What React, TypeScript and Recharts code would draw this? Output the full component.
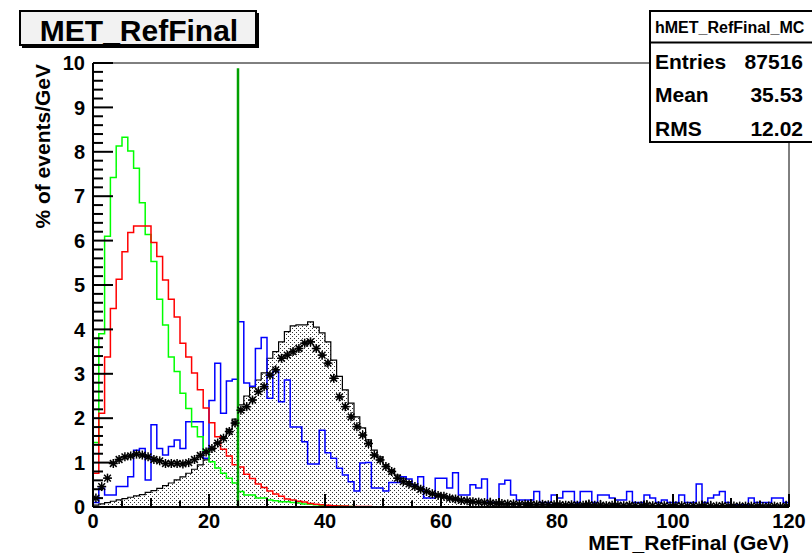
import React from 'react';
import { ComposedChart, Line, Area, Scatter, XAxis, YAxis, ReferenceLine } from 'recharts';

const FONT = '"Liberation Sans", Arial, Helvetica, sans-serif';

// ---- axis definitions ----
const X_MIN = 0;
const X_MAX = 120;
const BIN_WIDTH = 1;
const Y_MIN = 0;
const Y_MAX = 10;
const xMajorTicks = [0, 20, 40, 60, 80, 100, 120];
const xMinorStep = 5;
const yMajorTicks = [0, 1, 2, 3, 4, 5, 6, 7, 8, 9, 10];
const yMinorStep = 0.2;

// ---- cut line ----
const cutX = 25;
const cutTop = 9.88;

// ---- texts ----
const chartTitle = 'MET_RefFinal';
const xTitle = 'MET_RefFinal (GeV)';
const yTitle = '% of events/GeV';
const statsName = 'hMET_RefFinal_MC';
const statsLabels = ['Entries', 'Mean', 'RMS'];
const statsValues = ['87516', '35.53', '12.02'];

// ---- histogram contents (one value per 1 GeV bin, 0..120) ----
const greenHist = [
  1.45, 3.9, 6.1, 7.42, 8.13, 8.33, 8.02, 7.63, 6.85, 6.14,
  5.53, 4.68, 4.1, 3.38, 3.05, 2.56, 2.22, 1.81, 1.58, 1.28,
  1.02, 0.88, 0.76, 0.65, 0.54, 0.35, 0.27, 0.27, 0.2, 0.2,
  0.16, 0.14, 0.12, 0.12, 0.1, 0.09, 0.07, 0.06, 0.05, 0.04,
  0.03, 0.02, 0.02, 0.01, 0.01, 0, 0, 0, 0, 0,
  0, 0, 0, 0, 0, 0, 0, 0, 0, 0,
  0, 0, 0, 0, 0, 0, 0, 0, 0, 0,
  0, 0, 0, 0, 0, 0, 0, 0, 0, 0,
  0, 0, 0, 0, 0, 0, 0, 0, 0, 0,
  0, 0, 0, 0, 0, 0, 0, 0, 0, 0,
  0, 0, 0, 0, 0, 0, 0, 0, 0, 0,
  0, 0, 0, 0, 0, 0, 0, 0, 0, 0,
];

const redHist = [
  0.76, 2.11, 3.38, 4.47, 5.13, 5.75, 6.18, 6.33, 6.33, 6.33,
  5.96, 5.64, 5.11, 4.68, 4.28, 3.69, 3.38, 3.02, 2.64, 2.23,
  1.9, 1.58, 1.3, 1.15, 0.95, 0.9, 0.74, 0.64, 0.52, 0.44,
  0.36, 0.29, 0.24, 0.18, 0.16, 0.13, 0.11, 0.08, 0.06, 0.05,
  0.04, 0.03, 0.02, 0.02, 0.01, 0.01, 0.01, 0.01, 0, 0,
  0, 0, 0, 0, 0, 0, 0, 0, 0, 0,
  0, 0, 0, 0, 0, 0, 0, 0, 0, 0,
  0, 0, 0, 0, 0, 0, 0, 0, 0, 0,
  0, 0, 0, 0, 0, 0, 0, 0, 0, 0,
  0, 0, 0, 0, 0, 0, 0, 0, 0, 0,
  0, 0, 0, 0, 0, 0, 0, 0, 0, 0,
  0, 0, 0, 0, 0, 0, 0, 0, 0, 0,
];

const blueHist = [
  0.1, 0.42, 0.27, 0.27, 0.46, 0.46, 0.68, 1.28, 1.32, 0.61,
  1.85, 1.32, 1.17, 1.36, 1.51, 1.32, 1.92, 1.92, 1.92, 1.1,
  2.4, 3.24, 2.11, 2.84, 2.88, 4.17, 2.79, 2.72, 3.57, 3.82,
  2.45, 3.05, 2.37, 2.86, 1.8, 1.8, 1.47, 0.97, 0.97, 1.73,
  1.22, 1.1, 0.87, 0.72, 0.57, 0.36, 0.99, 1.0, 0.43, 0.43,
  0.36, 0.55, 0.55, 0.68, 0.63, 0.5, 0.68, 0.2, 0.2, 0.65,
  0.65, 0.43, 0.77, 0.27, 0.27, 0.5, 0.43, 0.63, 0.1, 0.1,
  0.52, 0.6, 0.27, 0.16, 0.16, 0.16, 0.35, 0.1, 0.1, 0.27,
  0.2, 0.35, 0.35, 0.1, 0.35, 0.35, 0.1, 0.27, 0.27, 0.2,
  0.16, 0.16, 0.35, 0.1, 0.1, 0.27, 0.2, 0.1, 0.16, 0.1,
  0.1, 0.27, 0.1, 0.1, 0.52, 0.1, 0.2, 0.27, 0.35, 0.1,
  0.05, 0.05, 0.05, 0.2, 0.1, 0.1, 0.1, 0.2, 0.2, 0.1,
];

const mcHist = [
  0.04, 0.07, 0.1, 0.13, 0.16, 0.19, 0.22, 0.25, 0.28, 0.33,
  0.37, 0.42, 0.48, 0.54, 0.61, 0.68, 0.76, 0.85, 0.95, 1.06,
  1.3, 1.45, 1.58, 1.75, 1.98, 2.3, 2.5, 2.7, 2.86, 3.02,
  3.35, 3.5, 3.72, 3.95, 4.08, 4.1, 4.1, 4.17, 4.05, 3.92,
  3.72, 3.31, 2.94, 2.64, 2.34, 2.03, 1.78, 1.51, 1.28, 1.13,
  0.95, 0.83, 0.72, 0.65, 0.57, 0.5, 0.42, 0.35, 0.3, 0.27,
  0.23, 0.2, 0.17, 0.15, 0.13, 0.12, 0.1, 0.09, 0.08, 0.08,
  0.07, 0.07, 0.06, 0.06, 0.06, 0.05, 0.05, 0.05, 0.05, 0.04,
  0.04, 0.04, 0.04, 0.04, 0.04, 0.04, 0.04, 0.04, 0.04, 0.04,
  0.03, 0.03, 0.03, 0.03, 0.03, 0.03, 0.03, 0.03, 0.03, 0.03,
  0.03, 0.03, 0.03, 0.03, 0.03, 0.02, 0.02, 0.02, 0.02, 0.02,
  0.02, 0.02, 0.02, 0.02, 0.02, 0.02, 0.02, 0.02, 0.02, 0.02,
];

const dataHist = [
  0.2, 0.46, 0.65, 0.98, 1.07, 1.13, 1.15, 1.19, 1.17, 1.13,
  1.07, 1.04, 0.98, 0.98, 0.98, 0.97, 1.0, 1.07, 1.16, 1.24,
  1.32, 1.44, 1.55, 1.7, 1.89, 2.18, 2.26, 2.41, 2.6, 2.71,
  2.97, 3.09, 3.35, 3.42, 3.5, 3.57, 3.69, 3.72, 3.57, 3.42,
  3.24, 2.9, 2.48, 2.26, 2.03, 1.81, 1.62, 1.43, 1.17, 1.06,
  0.91, 0.8, 0.65, 0.57, 0.52, 0.46, 0.4, 0.35, 0.3, 0.26,
  0.24, 0.2, 0.18, 0.15, 0.14, 0.12, 0.11, 0.1, 0.09, 0.08,
  0.08, 0.07, 0.07, 0.06, 0.06, 0.06, 0.05, 0.06, 0.05, 0.05,
  0.05, 0.04, 0.05, 0.04, 0.04, 0.05, 0.04, 0.04, 0.03, 0.04,
  0.04, 0.03, 0.04, 0.03, 0.03, 0.04, 0.03, 0.03, 0.03, 0.02,
  0.03, 0.03, 0.02, 0.03, 0.02, 0.03, 0.02, 0.02, 0.03, 0.02,
  0.02, 0.02, 0.02, 0.02, 0.02, 0.01, 0.02, 0.02, 0.01, 0.02,
];

const dataErr = [
  0.03, 0.04, 0.04, 0.05, 0.05, 0.05, 0.05, 0.05, 0.05, 0.05,
  0.05, 0.05, 0.05, 0.05, 0.05, 0.05, 0.05, 0.05, 0.05, 0.05,
  0.05, 0.05, 0.05, 0.05, 0.05, 0.06, 0.06, 0.06, 0.06, 0.06,
  0.06, 0.06, 0.06, 0.06, 0.06, 0.06, 0.06, 0.06, 0.06, 0.06,
  0.06, 0.06, 0.06, 0.06, 0.06, 0.05, 0.05, 0.05, 0.05, 0.05,
  0.05, 0.05, 0.05, 0.05, 0.05, 0.05, 0.05, 0.05, 0.05, 0.05,
  0.05, 0.05, 0.05, 0.05, 0.05, 0.05, 0.05, 0.05, 0.12, 0.05,
  0.05, 0.05, 0.05, 0.05, 0.05, 0.12, 0.05, 0.05, 0.05, 0.05,
  0.05, 0.05, 0.05, 0.05, 0.05, 0.12, 0.05, 0.12, 0.05, 0.05,
  0.05, 0.05, 0.05, 0.05, 0.05, 0.12, 0.05, 0.05, 0.05, 0.05,
  0.05, 0.05, 0.05, 0.05, 0.05, 0.05, 0.12, 0.05, 0.05, 0.05,
  0.05, 0.05, 0.05, 0.05, 0.05, 0.05, 0.05, 0.05, 0.05, 0.12,
];

// ---- tables for the library ----
const nBins = greenHist.length;
const histRows = Array.from({ length: nBins + 1 }, (_, i) => {
  const j = Math.min(i, nBins - 1);
  return {
    x: X_MIN + i * BIN_WIDTH,
    green: greenHist[j],
    red: redHist[j],
    blue: blueHist[j],
    mc: mcHist[j],
  };
});

const dataPoints = dataHist.map((v, i) => ({
  x: X_MIN + (i + 0.5) * BIN_WIDTH,
  y: v,
}));

// error bars: x error = half bin width, y error from dataErr
const errorBars = dataHist.map((v, i) => {
  const lo = X_MIN + i * BIN_WIDTH;
  const c = lo + BIN_WIDTH / 2;
  return {
    h: [{ x: lo, y: v }, { x: lo + BIN_WIDTH, y: v }],
    v: [{ x: c, y: Math.max(Y_MIN, v - dataErr[i]) }, { x: c, y: v + dataErr[i] }],
  };
});

const xTicks: number[] = [];
for (let v = X_MIN; v <= X_MAX + 1e-9; v += xMinorStep) xTicks.push(v);
const yTicks: number[] = [];
for (let k = 0; k <= Math.round((Y_MAX - Y_MIN) / yMinorStep); k++) {
  yTicks.push(Math.round((Y_MIN + k * yMinorStep) * 1000) / 1000);
}

const XTick = (props: any) => {
  const { x, y, payload } = props;
  const v = payload.value;
  const isMajor = xMajorTicks.includes(v);
  const len = isMajor ? 13 : v % 10 === 0 ? 9 : 6.5;
  return (
    <g>
      <line x1={x} x2={x} y1={y} y2={y - len} stroke="#000" strokeWidth={2} />
      {isMajor && (
        <text x={x} y={y + 21} textAnchor="middle" fontSize={20} fontWeight="bold" fontFamily={FONT} fill="#000">
          {v}
        </text>
      )}
    </g>
  );
};

const YTick = (props: any) => {
  const { x, y, payload } = props;
  const v = payload.value;
  const isMajor = yMajorTicks.includes(v);
  const len = isMajor ? 20 : 10;
  return (
    <g>
      <line x1={x} x2={x + len} y1={y} y2={y} stroke="#000" strokeWidth={2} />
      {isMajor && (
        <text x={x - 8} y={y} dy="0.36em" textAnchor="end" fontSize={20} fontWeight="bold" fontFamily={FONT} fill="#000">
          {v}
        </text>
      )}
    </g>
  );
};

const Star = (props: any) => {
  const { cx, cy } = props;
  if (cx == null || cy == null) return null;
  const r = 4.5;
  const d = r * 0.75;
  return (
    <g stroke="#000" strokeWidth={1.5}>
      <line x1={cx - r} x2={cx + r} y1={cy} y2={cy} />
      <line x1={cx} x2={cx} y1={cy - r} y2={cy + r} />
      <line x1={cx - d} x2={cx + d} y1={cy - d} y2={cy + d} />
      <line x1={cx - d} x2={cx + d} y1={cy + d} y2={cy - d} />
    </g>
  );
};

const W = 812;
const H = 553;

export default function App() {
  return (
    <div style={{ position: 'absolute', left: 0, top: 0, width: W, height: H, overflow: 'hidden', background: '#fff' }}>
      <ComposedChart width={W} height={H} data={histRows} margin={{ top: 62, right: 22, bottom: 45, left: 92 }}>
        <defs>
          <pattern id="stipple" width="4" height="4" patternUnits="userSpaceOnUse">
            <rect width="4" height="4" fill="#fff" />
            <rect x="0" y="0" width="1" height="1" fill="#333" />
            <rect x="2" y="2" width="1" height="1" fill="#333" />
          </pattern>
        </defs>
        <XAxis
          dataKey="x"
          type="number"
          domain={[X_MIN, X_MAX]}
          allowDataOverflow
          ticks={xTicks}
          interval={0}
          tick={<XTick />}
          tickLine={false}
          tickSize={0}
          tickMargin={0}
          height={1}
          axisLine={{ stroke: '#000', strokeWidth: 2 }}
        />
        <XAxis
          xAxisId="top"
          orientation="top"
          dataKey="x"
          type="number"
          domain={[X_MIN, X_MAX]}
          allowDataOverflow
          tick={false}
          tickLine={false}
          height={1}
          axisLine={{ stroke: '#000', strokeWidth: 1 }}
        />
        <YAxis
          type="number"
          domain={[Y_MIN, Y_MAX]}
          allowDataOverflow
          ticks={yTicks}
          interval={0}
          tick={<YTick />}
          tickLine={false}
          tickSize={0}
          tickMargin={0}
          width={1}
          axisLine={{ stroke: '#000', strokeWidth: 2 }}
        />
        <YAxis
          yAxisId="right"
          orientation="right"
          type="number"
          domain={[Y_MIN, Y_MAX]}
          allowDataOverflow
          tick={false}
          tickLine={false}
          width={1}
          axisLine={{ stroke: '#000', strokeWidth: 1 }}
        />
        <Area
          type="stepAfter"
          dataKey="mc"
          stroke="#000"
          strokeWidth={1.2}
          fill="url(#stipple)"
          fillOpacity={1}
          dot={false}
          activeDot={false}
          isAnimationActive={false}
        />
        <Line type="stepAfter" dataKey="blue" stroke="#0000ff" strokeWidth={1.5} dot={false} activeDot={false} isAnimationActive={false} />
        <Line type="stepAfter" dataKey="green" stroke="#00ff00" strokeWidth={1.5} dot={false} activeDot={false} isAnimationActive={false} />
        <Line type="stepAfter" dataKey="red" stroke="#ff0000" strokeWidth={1.5} dot={false} activeDot={false} isAnimationActive={false} />
        {errorBars.map((e, i) => (
          <ReferenceLine key={'eh' + i} segment={e.h} stroke="#000" strokeWidth={1.5} ifOverflow="visible" />
        ))}
        {errorBars.map((e, i) => (
          <ReferenceLine key={'ev' + i} segment={e.v} stroke="#000" strokeWidth={1.5} ifOverflow="visible" />
        ))}
        <Scatter data={dataPoints} dataKey="y" shape={<Star />} isAnimationActive={false} />
        <ReferenceLine
          segment={[{ x: cutX, y: Y_MIN }, { x: cutX, y: cutTop }]}
          stroke="#00a000"
          strokeWidth={2.5}
        />
      </ComposedChart>
      <svg width={W} height={H} style={{ position: 'absolute', left: 0, top: 0, pointerEvents: 'none' }}>
        <rect x={22} y={13} width={237} height={35} fill="#000" />
        <rect x={20} y={11} width={236} height={34} fill="#f2f2f2" stroke="#000" strokeWidth={2} />
        <text x={139} y={41} textAnchor="middle" fontSize={30} fontWeight="bold" fontFamily={FONT} fill="#000">
          {chartTitle}
        </text>
        <rect x={650} y={11} width={170} height={131} fill="#fff" stroke="#000" strokeWidth={2} />
        <line x1={650} x2={W} y1={42.5} y2={42.5} stroke="#000" strokeWidth={2} />
        <text x={655} y={33} fontSize={16} fontWeight="bold" fontFamily={FONT} fill="#000">
          {statsName}
        </text>
        {statsLabels.map((lab, i) => (
          <g key={lab}>
            <text x={655} y={68.5 + i * 33.5} fontSize={21} fontWeight="bold" fontFamily={FONT} fill="#000">
              {lab}
            </text>
            <text x={803} y={68.5 + i * 33.5} textAnchor="end" fontSize={21} fontWeight="bold" fontFamily={FONT} fill="#000">
              {statsValues[i]}
            </text>
          </g>
        ))}
        <text x={789} y={550} textAnchor="end" fontSize={21} fontWeight="bold" fontFamily={FONT} fill="#000">
          {xTitle}
        </text>
        <text
          transform="translate(50,64) rotate(-90)"
          textAnchor="end"
          fontSize={21}
          fontWeight="bold"
          fontFamily={FONT}
          fill="#000"
        >
          {yTitle}
        </text>
      </svg>
    </div>
  );
}
